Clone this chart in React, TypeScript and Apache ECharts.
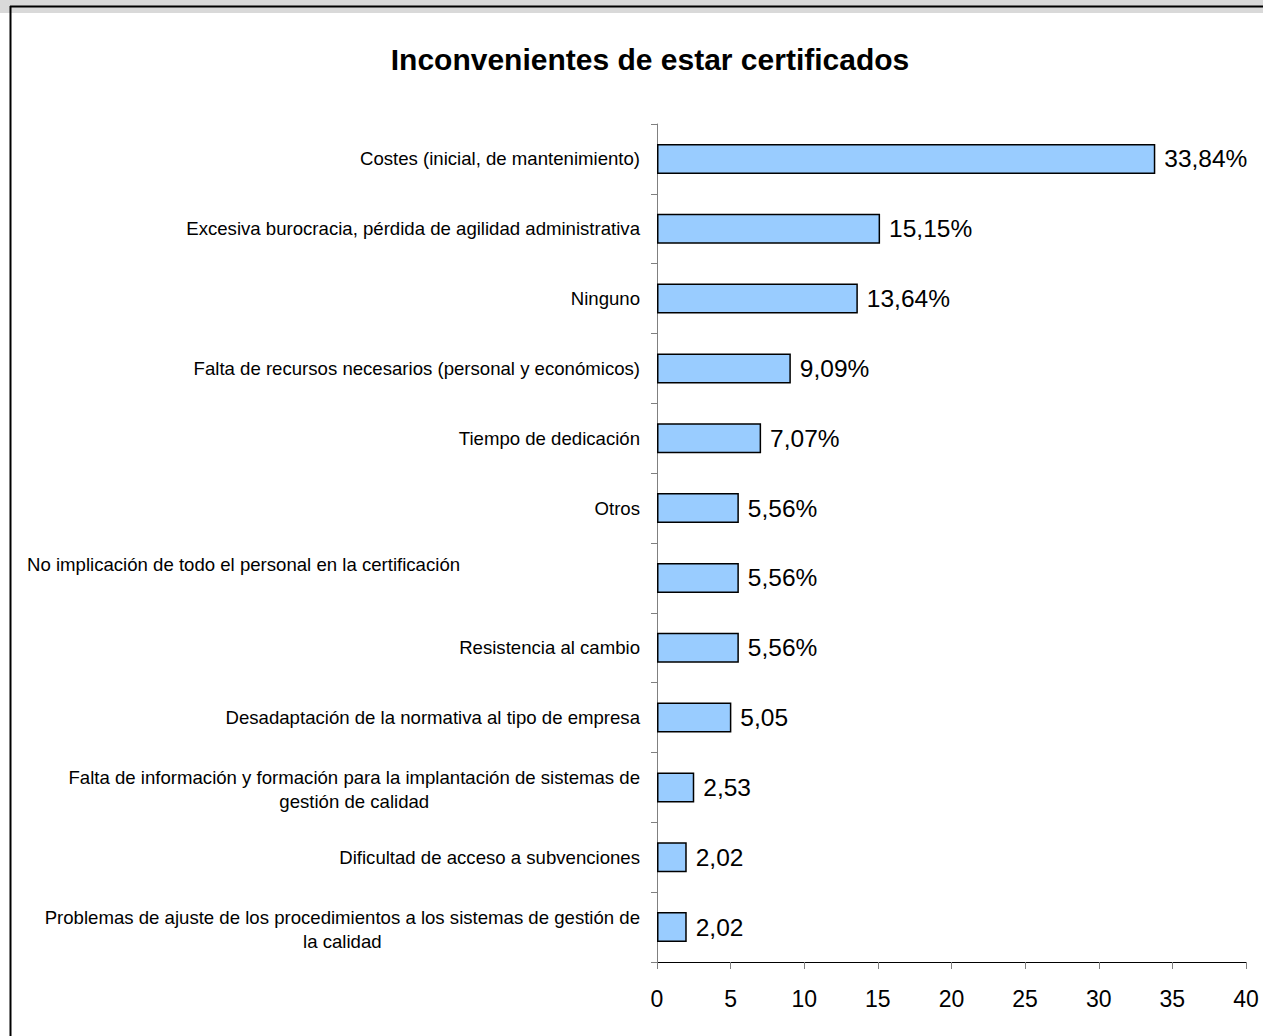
import React, { useEffect, useRef } from "react";
import * as echarts from "echarts";

const categories: string[] = [
  "Costes (inicial, de mantenimiento)",
  "Excesiva burocracia, pérdida de agilidad administrativa",
  "Ninguno",
  "Falta de recursos necesarios (personal y económicos)",
  "Tiempo de dedicación",
  "Otros",
  "No implicación de todo el personal en la certificación",
  "Resistencia al cambio",
  "Desadaptación de la normativa al tipo de empresa",
  "Falta de información y formación para la implantación de sistemas de\ngestión de calidad",
  "Dificultad de acceso a subvenciones",
  "Problemas de ajuste de los procedimientos a los sistemas de gestión de\nla calidad",
];

const values: number[] = [33.84, 15.15, 13.64, 9.09, 7.07, 5.56, 5.56, 5.56, 5.05, 2.53, 2.02, 2.02];

const valueLabels: string[] = [
  "33,84%", "15,15%", "13,64%", "9,09%", "7,07%", "5,56%", "5,56%", "5,56%", "5,05", "2,53", "2,02", "2,02",
];

const xTicks: number[] = [0, 5, 10, 15, 20, 25, 30, 35, 40];

const title = "Inconvenientes de estar certificados";

export default function App() {
  const ref = useRef<HTMLDivElement>(null);
  useEffect(() => {
    if (!ref.current) return;
    const chart = echarts.init(ref.current, null, { renderer: "svg" });
    const font = "Liberation Sans, Arial, sans-serif";
    const fs = 18.6;
    chart.setOption({
      animation: false,
      backgroundColor: "#ffffff",
      title: {
        text: title,
        left: 645,
        top: 39,
        textAlign: "center",
        textStyle: { fontFamily: font, fontSize: 30, fontWeight: "bold", color: "#000" },
      },
      graphic: [
        { type: "rect", shape: { x: 0, y: 0, width: 1263, height: 13 }, style: { fill: "#d9d9d9" } },
        { type: "line", shape: { x1: 10, y1: 6.5, x2: 1263, y2: 6.5 }, style: { stroke: "#000", lineWidth: 2 } },
        { type: "line", shape: { x1: 10.5, y1: 6, x2: 10.5, y2: 1036 }, style: { stroke: "#000", lineWidth: 2 } },
      ],
      grid: { left: 657, right: 17, top: 124, bottom: 74, containLabel: false },
      xAxis: {
        type: "value",
        min: 0,
        max: 40,
        interval: 5,
        splitLine: { show: false },
        axisLine: { show: true, lineStyle: { color: "#000", width: 1 } },
        axisTick: { show: true, length: 7, lineStyle: { color: "#808080", width: 1 } },
        axisLabel: {
          fontFamily: font,
          fontSize: 23,
          color: "#000",
          margin: 25,
          formatter: (v: number) => (xTicks.includes(v) ? String(v) : ""),
        },
      },
      yAxis: {
        type: "category",
        inverse: true,
        data: categories,
        axisLine: { show: true, lineStyle: { color: "#808080", width: 1 } },
        axisTick: { show: true, length: 6, lineStyle: { color: "#808080", width: 1 } },
        axisLabel: {
          fontFamily: font,
          fontSize: fs,
          color: "#000",
          margin: 17,
          align: "right",
          formatter: (v: string) => {
            if (v.startsWith("No implicación")) return "{l|" + v + "}";
            const parts = v.split("\n");
            if (parts.length > 1) return parts.map((s) => "{m|" + s + "}").join("\n");
            return "{c|" + v + "}";
          },
          rich: {
            c: { align: "center", fontFamily: font, fontSize: fs, color: "#000", lineHeight: 24 },
            m: { align: "center", fontFamily: font, fontSize: fs, color: "#000", lineHeight: 24, padding: [4, 0, 0, 0] },
            l: { align: "left", width: 613, fontFamily: font, fontSize: fs, color: "#000", padding: [0, 0, 26, 0] },
          },
        },
      },
      series: [
        {
          type: "bar",
          data: values,
          barCategoryGap: "57%",
          itemStyle: { color: "#99ccff", borderColor: "#000", borderWidth: 1.5 },
          label: {
            show: true,
            position: "right",
            distance: 9,
            fontFamily: font,
            fontSize: 24.5,
            color: "#000",
            formatter: (p: any) => valueLabels[p.dataIndex],
          },
        },
      ],
    });
    return () => chart.dispose();
  }, []);
  return (
    <div
      ref={ref}
      style={{ position: "fixed", left: 0, top: 0, width: 1263, height: 1036 }}
    />
  );
}
